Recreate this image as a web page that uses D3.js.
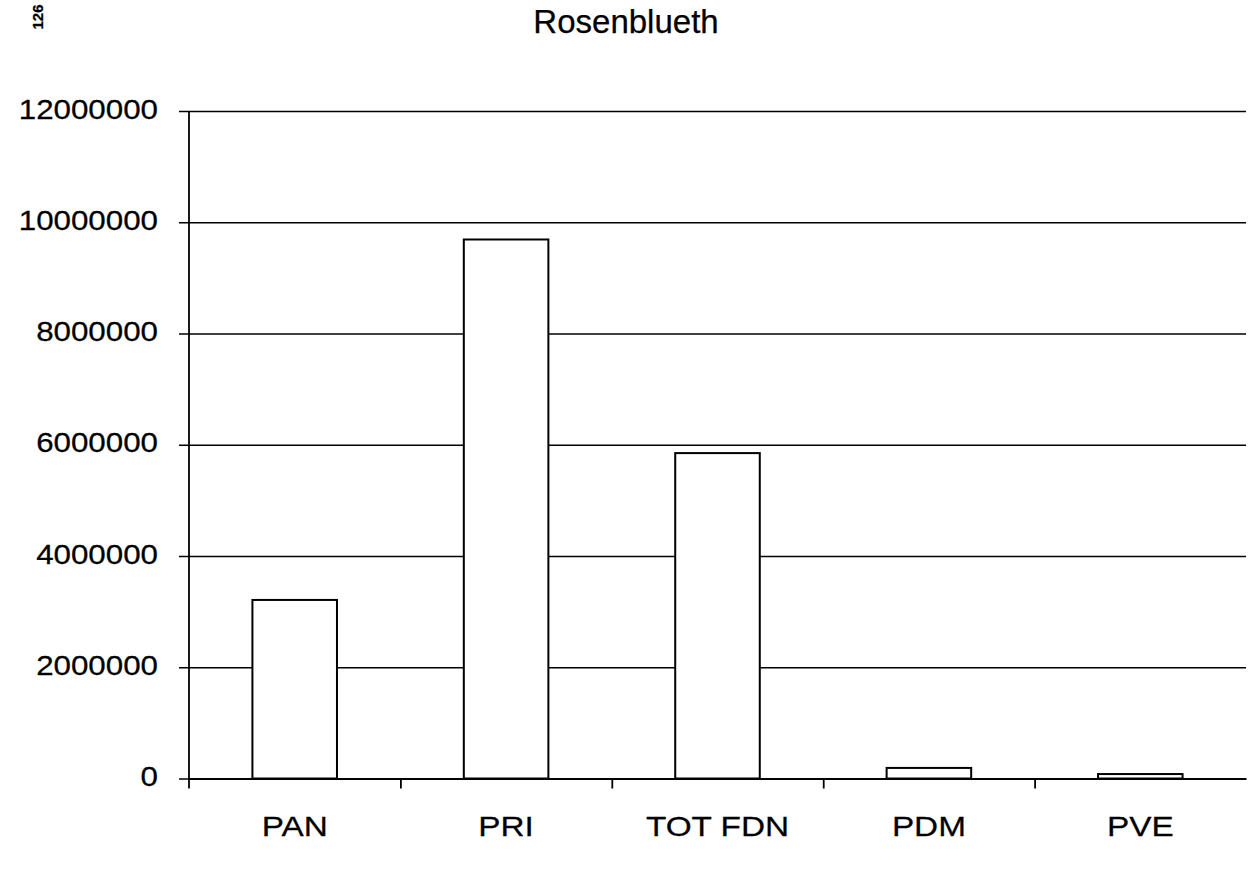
<!DOCTYPE html>
<html>
<head>
<meta charset="utf-8">
<script src="https://cdn.jsdelivr.net/npm/d3@7/dist/d3.min.js"></script>
<style>
  html, body { margin: 0; padding: 0; background: #fff; }
  svg { display: block; }
  text { font-family: "Liberation Sans", Arial, sans-serif; fill: #000; stroke: #000; stroke-width: 0.25px; }
</style>
</head>
<body>
<script>
const categories = ["PAN", "PRI", "TOT FDN", "PDM", "PVE"];
const values = [3210000, 9690000, 5850000, 190000, 80000];
const yTicks = [0, 2000000, 4000000, 6000000, 8000000, 10000000, 12000000];
const title = "Rosenblueth";
const pageNote = "126";

const W = 1249, H = 870;
const mLeft = 189, mRight = 1246, mTop = 111, mBottom = 778.5;

const svg = d3.select("body").append("svg").attr("width", W).attr("height", H);

const y = d3.scaleLinear().domain([0, 12000000]).range([mBottom, mTop]);
const x = d3.scaleBand().domain(categories).range([mLeft, mRight]).paddingInner(0.6).paddingOuter(0.3);
const xb = d3.scaleLinear().domain([0, categories.length]).range([mLeft, mRight]);

// horizontal stretch helper for text (scanned look)
function stretch(sel, k) {
  sel.each(function() {
    const t = d3.select(this);
    const x0 = +t.attr("x") || 0;
    t.attr("x", x0 / k).attr("transform", `scale(${k},1)`);
  });
}

// gridlines
const grid = svg.append("g").attr("transform", `translate(${mLeft - 10},0)`)
  .call(d3.axisLeft(y).tickValues(yTicks).tickSize(-(mRight - mLeft + 10)).tickFormat(""));
grid.select(".domain").remove();
grid.selectAll("line").attr("stroke", "#000").attr("stroke-width", 1.4);

// y axis labels
const yAxis = svg.append("g").attr("transform", `translate(${mLeft},0)`)
  .call(d3.axisLeft(y).tickValues(yTicks).tickSize(0).tickSizeOuter(0).tickPadding(31).tickFormat(d3.format("d")));
yAxis.select(".domain").remove();
yAxis.selectAll("text").attr("font-size", 27).attr("font-family", "Liberation Sans, Arial, sans-serif").attr("dy", "0.26em");
stretch(yAxis.selectAll("text"), 1.16);

// y axis line
svg.append("line").attr("x1", mLeft).attr("x2", mLeft).attr("y1", y(12000000)).attr("y2", y(0) + 10)
  .attr("stroke", "#000").attr("stroke-width", 1.8);

// bars
svg.append("g").selectAll("rect").data(categories).join("rect")
  .attr("x", d => x(d))
  .attr("width", x.bandwidth())
  .attr("y", (d, i) => y(values[i]))
  .attr("height", (d, i) => y(0) - y(values[i]))
  .attr("fill", "#fff").attr("stroke", "#000").attr("stroke-width", 2);

// x axis line + boundary ticks
const xTickAxis = svg.append("g").attr("transform", `translate(0,${mBottom})`)
  .call(d3.axisBottom(xb).tickValues([1, 2, 3, 4]).tickSize(10).tickSizeOuter(0).tickFormat(""));
xTickAxis.select(".domain").attr("stroke", "#000").attr("stroke-width", 1.8);
xTickAxis.selectAll("line").attr("stroke", "#000").attr("stroke-width", 1.8);

// x labels
const xAxis = svg.append("g").attr("transform", `translate(0,${mBottom})`)
  .call(d3.axisBottom(x).tickSize(0));
xAxis.select(".domain").remove();
xAxis.selectAll("text").attr("font-size", 28.5).attr("y", 57.5).attr("dy", "0")
  .attr("font-family", "Liberation Sans, Arial, sans-serif");
stretch(xAxis.selectAll("text"), 1.17);

// title
svg.append("text").attr("x", 626).attr("y", 33).attr("text-anchor", "middle")
  .attr("font-size", 33).text(title);

// page note (rotated)
svg.append("text").attr("transform", "translate(43,17) rotate(-90)")
  .attr("text-anchor", "middle").attr("font-size", 15).attr("font-weight", "bold")
  .attr("font-family", "Liberation Serif, serif").text(pageNote);
</script>
</body>
</html>
